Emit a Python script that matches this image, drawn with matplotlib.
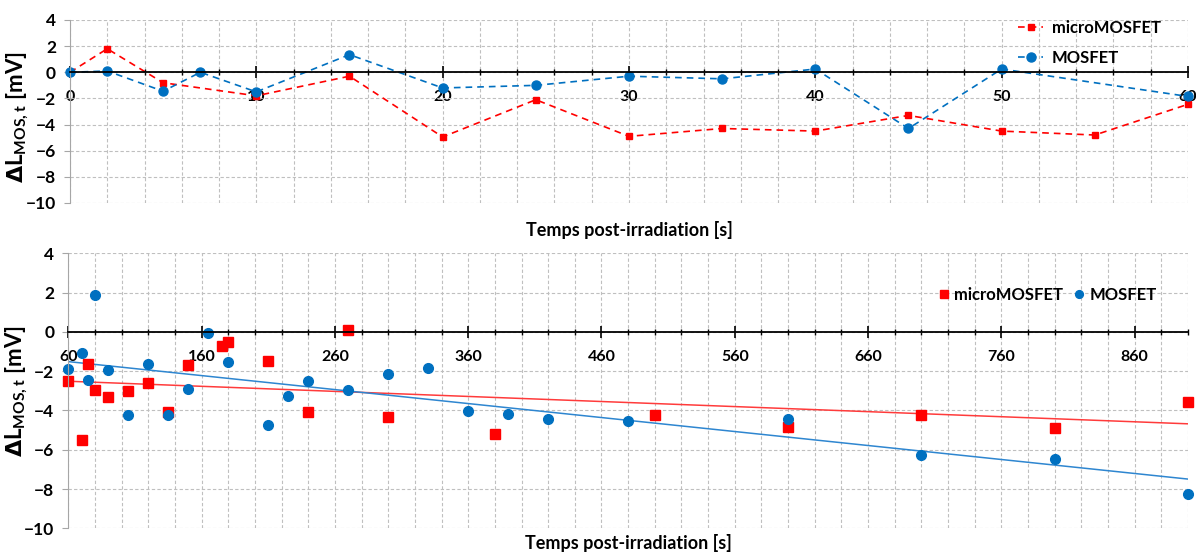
import numpy as np
import matplotlib
matplotlib.use("Agg")
import matplotlib.pyplot as plt

plt.rcParams['font.family'] = ['Lato', 'DejaVu Sans']
plt.rcParams['font.weight'] = 'bold'
plt.rcParams['axes.labelweight'] = 'bold'

RED = '#FF0000'
BLUE = '#0070C0'
GRID = '#BFBFBF'
AXIS_GRAY = '#A6A6A6'

# haut : 0 - 60 s
t_micro_top = [0, 2, 5, 10, 15, 20, 25, 30, 35, 40, 45, 50, 55, 60]
dl_micro_top = [0, 1.8, -0.8, -1.8, -0.3, -4.95, -2.1, -4.9, -4.3, -4.5,
                -3.3, -4.5, -4.8, -2.45]
t_mos_top = [0, 2, 5, 7, 10, 15, 20, 25, 30, 35, 40, 45, 50, 60]
dl_mos_top = [0, 0.1, -1.45, 0, -1.5, 1.35, -1.2, -1.0, -0.3, -0.5,
              0.25, -4.3, 0.25, -1.85]

# bas : 60 - 900 s
t_micro_bot = [60, 70, 75, 80, 90, 105, 120, 135, 150, 175, 180, 210, 240,
               270, 300, 380, 500, 600, 700, 800, 900]
dl_micro_bot = [-2.5, -5.5, -1.65, -2.95, -3.3, -3.0, -2.6, -4.1, -1.7,
                -0.7, -0.5, -1.5, -4.1, 0.07, -4.35, -5.2, -4.25, -4.85,
                -4.25, -4.9, -3.55]
t_mos_bot = [60, 70, 75, 80, 90, 105, 120, 135, 150, 165, 180, 210, 225,
             240, 270, 300, 330, 360, 390, 420, 480, 600, 700, 800, 900]
dl_mos_bot = [-1.9, -1.1, -2.45, 1.9, -1.95, -4.25, -1.65, -4.25, -2.9,
              -0.05, -1.55, -4.75, -3.25, -2.5, -2.95, -2.15, -1.85, -4.05,
              -4.2, -4.45, -4.55, -4.45, -6.25, -6.45, -8.25]

YLABEL = r'$\mathbf{\Delta}$L$_{\mathregular{MOS, t}}$ [mV]'
XLABEL = 'Temps post-irradiation [s]'
DASH = (0, (4, 3))


def style_axes(ax, xmajor, xminor):
    """Axes facon Excel : axe des x sur la ligne zero, grille pointillee."""
    ax.set_xlim(xmajor[0], xminor[-1])
    ax.set_ylim(-10, 4)
    ax.set_yticks(np.arange(-10, 5, 2))
    ax.set_xticks(xmajor)
    ax.set_xticks(xminor, minor=True)
    ax.grid(True, which='both', color=GRID, linestyle=(0, (3, 2)),
            linewidth=0.8)
    ax.set_axisbelow(True)
    for side in ('top', 'right'):
        ax.spines[side].set_visible(False)
    ax.spines['left'].set_color(AXIS_GRAY)
    ax.spines['bottom'].set_position(('data', 0))
    ax.spines['bottom'].set_linewidth(1.3)
    ax.tick_params(axis='x', which='major', direction='inout', length=8,
                   width=1.2, pad=9, labelsize=11.5)
    ax.tick_params(axis='x', which='minor', direction='inout', length=5,
                   width=1.0)
    ax.tick_params(axis='y', direction='out', length=4, color=AXIS_GRAY,
                   pad=6, labelsize=12.5)
    ax.set_ylabel(YLABEL, fontsize=16)


fig = plt.figure(figsize=(11.96, 5.54), dpi=100)
ax1 = fig.add_axes([0.0585, 0.6336, 0.9348, 0.3303])
ax2 = fig.add_axes([0.0571, 0.0464, 0.9362, 0.4964])

# --- haut
style_axes(ax1, list(range(0, 61, 10)), list(range(0, 61, 2)))
ax1.plot(t_micro_top, dl_micro_top, color=RED, ls=DASH, lw=1.2,
         marker='s', ms=5, label='microMOSFET', clip_on=False)
ax1.plot(t_mos_top, dl_mos_top, color=BLUE, ls=DASH, lw=1.2,
         marker='o', ms=6.5, label='MOSFET', clip_on=False)
ax1.legend(loc='center', bbox_to_anchor=(0.912, 0.875), frameon=False,
           fontsize=12, handlelength=1.5, handletextpad=0.5,
           labelspacing=0.8, numpoints=1)
ax1.yaxis.set_label_coords(-0.035, 0.47)
ax1.text(0.5, -0.148, XLABEL, transform=ax1.transAxes, ha='center',
         va='center', fontsize=13)

# --- bas
style_axes(ax2, list(range(60, 861, 100)), list(range(60, 901, 20)))
pts_micro, = ax2.plot(t_micro_bot, dl_micro_bot, ls='none', marker='s',
                      ms=6.5, color=RED, label='microMOSFET', clip_on=False)
pts_mos, = ax2.plot(t_mos_bot, dl_mos_bot, ls='none', marker='o', ms=7,
                    color=BLUE, label='MOSFET', clip_on=False)

# droites de tendance (regression lineaire)
xfit = np.array([60, 900])
for t, dl, col in ((t_micro_bot, dl_micro_bot, '#FF3B3B'),
                   (t_mos_bot, dl_mos_bot, '#2E86D0')):
    a, b = np.polyfit(t, dl, 1)
    ax2.plot(xfit, a * xfit + b, color=col, lw=1.1, zorder=1.5)

ax2.legend(handles=[pts_micro, pts_mos], loc='center',
           bbox_to_anchor=(0.874, 0.848), ncol=2, frameon=False,
           fontsize=12, handlelength=0.8, handletextpad=0.2,
           columnspacing=0.6, markerscale=0.8)
ax2.yaxis.set_label_coords(-0.034, 0.5)
ax2.text(0.5, -0.053, XLABEL, transform=ax2.transAxes, ha='center',
         va='center', fontsize=13)

fig.savefig('out.png', dpi=100)
